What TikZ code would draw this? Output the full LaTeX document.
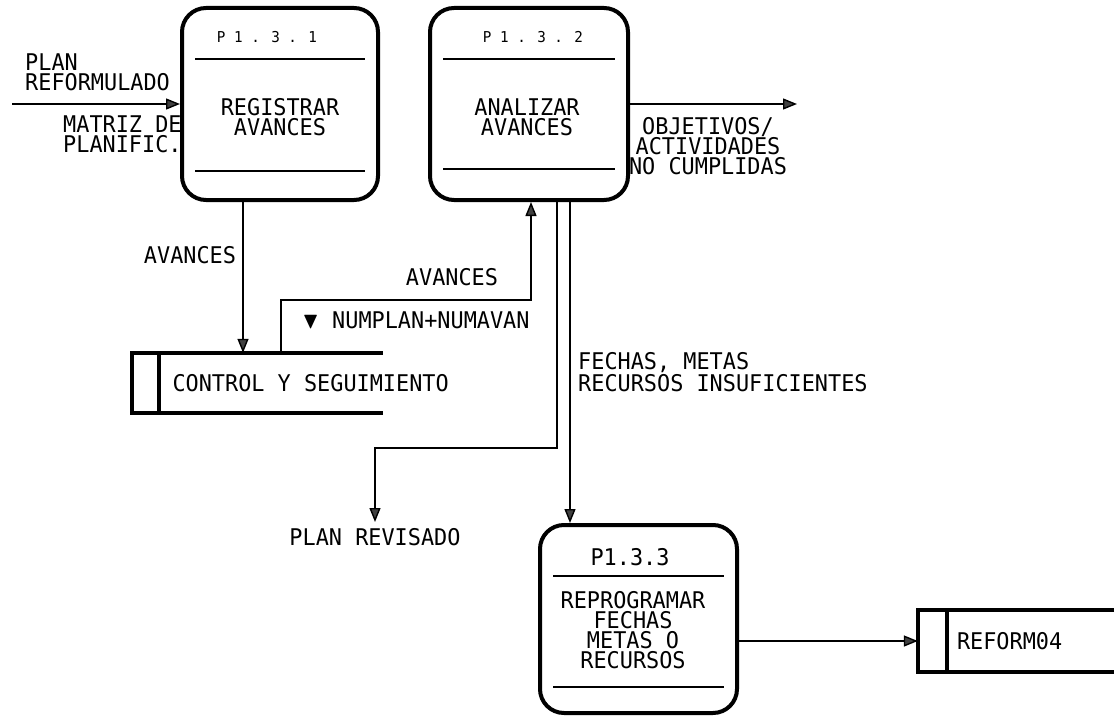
\documentclass[tikz,border=0pt]{standalone}
\usepackage{amsmath,amssymb}
\usepackage{fontspec}
\setmainfont{DejaVu Sans Mono}[FakeStretch=0.95]
\usepackage{tikz}
\usetikzlibrary{positioning,arrows.meta,calc}
\tikzset{
  proc/.style={rectangle,draw,line width=4pt,rounded corners=24pt,minimum width=196pt,
               minimum height=192pt,inner sep=0pt},
  ptitle/.style={font=\fontsize{15}{16}\selectfont,inner sep=0pt},
  ptext/.style={font=\fontsize{23}{20}\selectfont,align=center,inner sep=0pt},
  lbl/.style={font=\fontsize{23}{20}\selectfont,align=left,inner sep=0pt},
  store/.style={rectangle,inner sep=0pt},
  storeline/.style={line width=4pt},
  sep/.style={line width=2.4pt},
  flow/.style={-{Triangle[length=14pt,width=11pt,fill=black!75,line width=1.4pt]},line width=2.2pt},
}
\begin{document}
\begin{tikzpicture}[x=1pt,y=-1pt]
  \useasboundingbox (0,0) rectangle (1116,717);
  % processes
  \node[proc] (p1) at (280,104) {};
  \node[proc,minimum width=198pt] (p2) at (529,104) {};
  \node[proc,minimum width=197pt,minimum height=188pt] (p3) at (638.5,619) {};
  \foreach \p/\a/\b in {p1/53/31,p2/53/33,p3/53/28} {
    \draw[sep] ($(\p.north west)+(15,\a)$) -- ($(\p.north east)+(-15,\a)$);
    \draw[sep] ($(\p.south west)+(15,-\b)$) -- ($(\p.south east)+(-15,-\b)$);
  }
  \node[ptitle] (t1) at (267,37) {P 1 . 3 . 1};
  \node[ptitle] (t2) at (533,37) {P 1 . 3 . 2};
  \node[ptext] (t3) at (630,557) {P1.3.3};
  \node[ptext] (x1) at (280,117) {REGISTRAR\\AVANCES};
  \node[ptext] (x2) at (527,117) {ANALIZAR\\AVANCES};
  \node[ptext] (x3) at (633,630) {REPROGRAMAR\\FECHAS\\METAS O\\RECURSOS};
  % data stores
  \node[store,minimum width=250pt,minimum height=60pt] (s1) at (257.5,383) {};
  \node[store,minimum width=196pt,minimum height=62pt] (s2) at (1016,641) {};
  \foreach \s/\w in {s1/27,s2/29} {
    \draw[storeline] (\s.north east) -- (\s.north west) -- (\s.south west) -- (\s.south east);
    \draw[storeline] ($(\s.north west)+(\w,0)$) -- ($(\s.south west)+(\w,0)$);
  }
  \node[lbl,anchor=west] (n1) at ($(s1.west)+(40,0)$) {CONTROL Y SEGUIMIENTO};
  \node[lbl,anchor=west] (n2) at ($(s2.west)+(39,0)$) {REFORM04};
  % flows
  \coordinate (src) at (12,104);
  \coordinate (out) at (797,104);
  \coordinate (rev) at (375,522);
  \coordinate (a1) at ($(p1.south)+(-37,0)$);
  \coordinate (a2) at ($(s1.north west)+(149,0)$);
  \coordinate (a3) at ($(p2.south)+(2,0)$);
  \coordinate (a4) at ($(p2.south)+(28,0)$);
  \coordinate (a5) at ($(p2.south)+(41,0)$);
  \draw[flow] (src) -- (p1.west);
  \draw[flow] (a1) -- (a1 |- s1.north);
  \draw[flow] (a2) |- ($(a3)+(0,98)$) -- (a3);
  \draw[flow] (p2.east) -- (out);
  \draw[flow] (a4) |- ($(rev)+(0,-74)$) -- (rev);
  \draw[flow] (a5) -- (a5 |- p3.north);
  \draw[flow] (p3.east |- s2.west) -- (s2.west);
  % flow labels
  \node[lbl,anchor=west] (f1) at (25,72) {PLAN\\REFORMULADO};
  \node[lbl,anchor=west] (f2) at (63,134) {MATRIZ DE\\PLANIFIC.};
  \node[lbl] (f3) at (190,255) {AVANCES};
  \node[lbl] (f4) at (452,277) {AVANCES};
  \node[lbl] (f5) at (416,320) {$\blacktriangledown$ NUMPLAN+NUMAVAN};
  \node[ptext] (f6) at (708,146) {OBJETIVOS/\\ACTIVIDADES\\NO CUMPLIDAS};
  \node[lbl,anchor=west] (f7) at (578,372) {FECHAS, METAS\\RECURSOS INSUFICIENTES};
  \node[lbl] (revl) at (375,537) {PLAN REVISADO};
\end{tikzpicture}
\end{document}
